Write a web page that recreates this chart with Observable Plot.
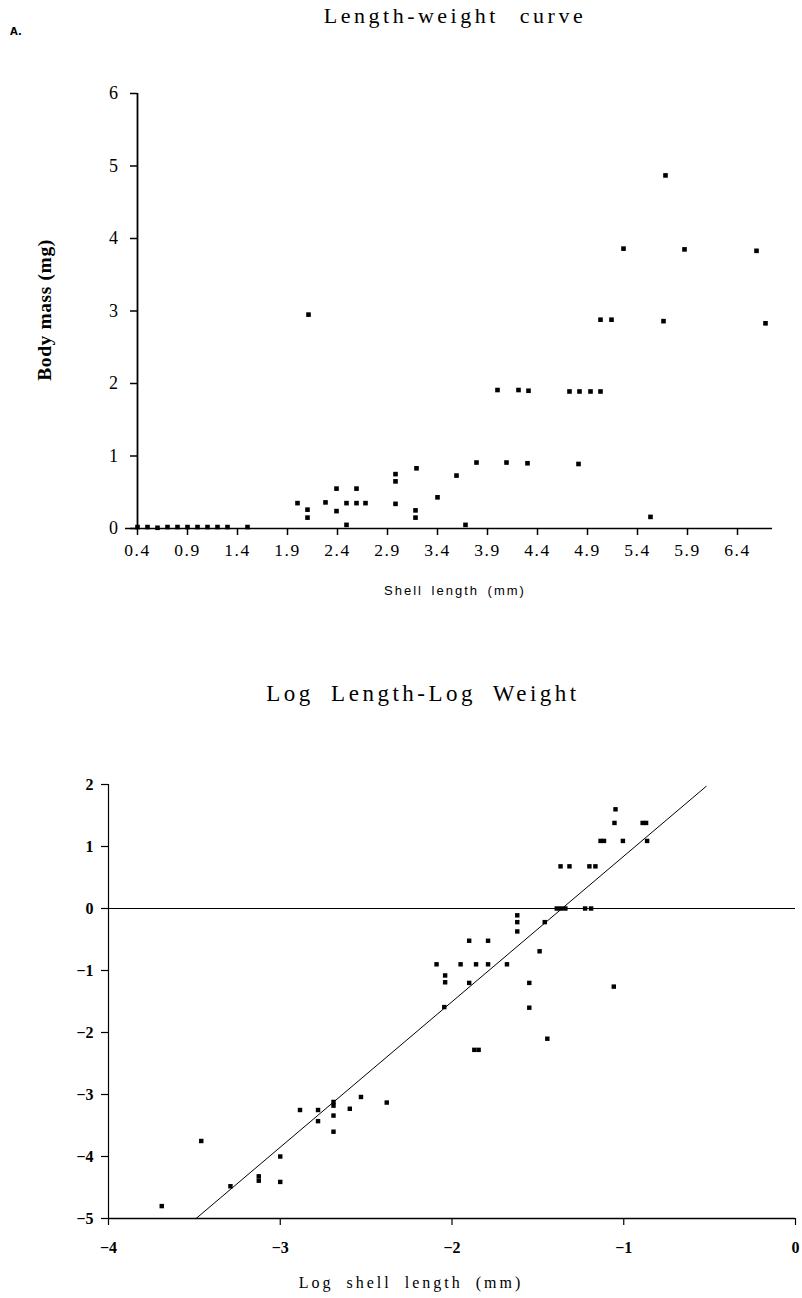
<!DOCTYPE html>
<html><head><meta charset="utf-8">
<script src="https://cdn.jsdelivr.net/npm/d3@7"></script>
<script src="https://cdn.jsdelivr.net/npm/@observablehq/plot@0.6"></script>
<style>
body{margin:0;background:#fff;}
#wrap{position:relative;width:802px;height:1298px;overflow:hidden;font-family:"Liberation Serif",serif;color:#000}
.t{position:absolute;white-space:nowrap;line-height:1;}
.c{transform:translate(-50%,-50%);}
#p1{position:absolute;left:0;top:0}
#p2{position:absolute;left:0;top:720px}
#p1 svg text{letter-spacing:1.5px}
</style></head><body>
<div id="wrap">
  <div class="t" style="left:10px;top:26px;font:bold 10px 'DejaVu Sans',sans-serif;">A.</div>
  <div id="p1"></div>
  <div id="p2"></div>
  <div class="t c" style="left:455px;top:16px;font-size:22px;letter-spacing:3.5px;word-spacing:12px;">Length-weight curve</div>
  <div class="t c" style="left:45px;top:310px;font-weight:bold;font-size:19.5px;letter-spacing:0.6px;transform:translate(-50%,-50%) rotate(-90deg);">Body mass (mg)</div>
  <div class="t c" style="left:455px;top:590px;font-family:'Liberation Sans',sans-serif;font-size:13px;letter-spacing:2px;word-spacing:3px;">Shell length (mm)</div>
  <div class="t c" style="left:423px;top:693px;font-size:23px;letter-spacing:3.5px;word-spacing:8px;">Log Length-Log Weight</div>
  <div class="t c" style="left:411px;top:1283px;font-size:16px;letter-spacing:3px;word-spacing:6px;">Log shell length (mm)</div>
</div>
<script>
// ---- Chart A: length-weight ----
const shellLength = [0.4,0.5,0.6,0.7,0.8,0.9,1.0,1.1,1.2,1.3,1.5,
  2.0,2.11,2.1,2.1,2.28,2.39,2.39,2.49,2.49,2.59,2.59,2.68,
  2.98,2.98,2.98,3.19,3.18,3.18,3.4,3.59,3.68,3.79,
  4.0,4.09,4.21,4.31,4.3,4.72,4.82,4.93,5.03,4.81,
  5.03,5.14,5.26,5.68,5.66,5.53,5.87,6.59,6.68];
const bodyMass = [0.02,0.02,0.01,0.02,0.02,0.02,0.02,0.02,0.02,0.02,0.02,
  0.35,2.95,0.26,0.15,0.36,0.55,0.24,0.35,0.05,0.55,0.35,0.35,
  0.75,0.65,0.34,0.83,0.25,0.15,0.43,0.73,0.05,0.91,
  1.91,0.91,1.91,1.9,0.9,1.89,1.89,1.89,1.89,0.89,
  2.88,2.88,3.86,4.87,2.86,0.16,3.85,3.83,2.83];
const ticksA_x = [0.4,0.9,1.4,1.9,2.4,2.9,3.4,3.9,4.4,4.9,5.4,5.9,6.4];
const ticksA_y = [0,1,2,3,4,5,6];

// ---- Chart B: log length - log weight ----
const logLength = [-3.69,-3.46,-3.29,-3.125,-3.125,-3.0,-3.0,-2.885,-2.78,-2.78,-2.69,-2.69,-2.69,-2.69,-2.595,-2.53,-2.38,
  -2.045,-2.09,-2.04,-2.04,-1.95,-1.9,-1.9,-1.86,-1.87,-1.845,-1.79,-1.79,-1.68,-1.62,-1.62,-1.62,-1.55,-1.55,-1.49,-1.46,-1.445,
  -1.39,-1.365,-1.34,-1.225,-1.19,-1.368,-1.316,-1.2,-1.165,-1.135,-1.115,-1.005,-0.864,-1.058,-1.048,-1.054,-0.89,-0.87];
const logMass = [-4.8,-3.75,-4.48,-4.32,-4.39,-4.0,-4.41,-3.25,-3.25,-3.43,-3.12,-3.18,-3.34,-3.6,-3.23,-3.04,-3.13,
  -1.59,-0.9,-1.08,-1.19,-0.9,-0.52,-1.2,-0.9,-2.28,-2.28,-0.52,-0.9,-0.9,-0.11,-0.22,-0.37,-1.2,-1.6,-0.69,-0.22,-2.1,
  0,0,0,0,0,0.68,0.68,0.68,0.68,1.09,1.09,1.09,1.09,-1.26,1.6,1.38,1.38,1.38];
const fitLogLength = [-3.49,-0.52];
const fitLogMass = [-5,1.97];
const ticksB_x = [-4,-3,-2,-1,0];
const ticksB_y = [-5,-4,-3,-2,-1,0,1,2];

const ptsA = shellLength.map((x,i)=>({x, y: bodyMass[i]}));
const ptsB = logLength.map((x,i)=>({x, y: logMass[i]}));
const fit = fitLogLength.map((x,i)=>({x, y: fitLogMass[i]}));

const p1 = Plot.plot({
  width: 802, height: 610,
  marginLeft: 137, marginRight: 30, marginTop: 93, marginBottom: 82,
  style: {fontFamily: "'Liberation Serif', serif", fontSize: "17px", color: "#000", background: "transparent"},
  x: {domain: [0.4, 6.75]},
  y: {domain: [0, 6]},
  marks: [
    Plot.ruleY([0], {x1: 0.28, x2: 6.75, stroke: "#000", strokeWidth: 1.6}),
    Plot.ruleX([0.4], {y1: 0, y2: 6, stroke: "#000", strokeWidth: 1.8}),
    Plot.axisY({ticks: ticksA_y, tickSize: 7, tickPadding: 11, label: null, tickFormat: d3.format("d"), fontSize: 18, strokeWidth: 1.5}),
    Plot.axisX({ticks: ticksA_x, tickSize: 7, tickPadding: 8, label: null, tickFormat: d3.format(".1f"), fontSize: 17.5, strokeWidth: 1.5}),
    Plot.dot(ptsA, {x: "x", y: "y", symbol: "square", r: 2.6, fill: "#000", stroke: "none"})
  ]
});
document.getElementById("p1").appendChild(p1);

const p2 = Plot.plot({
  width: 802, height: 576,
  marginLeft: 108, marginRight: 7, marginTop: 64, marginBottom: 78,
  style: {fontFamily: "'Liberation Serif', serif", fontSize: "16px", fontWeight: "bold", color: "#000", background: "transparent"},
  x: {domain: [-4, 0]},
  y: {domain: [-5, 2]},
  marks: [
    Plot.ruleY([0], {stroke: "#000", strokeWidth: 1.2}),
    Plot.ruleY([-5], {stroke: "#000", strokeWidth: 1.3}),
    Plot.ruleX([-4], {y1: -5, y2: 2, stroke: "#000", strokeWidth: 1.2}),
    Plot.axisY({ticks: ticksB_y, tickSize: 7, tickPadding: 8, label: null, tickFormat: d3.format("d"), strokeWidth: 1.2}),
    Plot.axisX({ticks: ticksB_x, tickSize: 7, tickPadding: 16, label: null, tickFormat: d3.format("d"), strokeWidth: 1.2}),
    Plot.line(fit, {x: "x", y: "y", stroke: "#000", strokeWidth: 1}),
    Plot.dot(ptsB, {x: "x", y: "y", symbol: "square", r: 2.5, fill: "#000", stroke: "none"})
  ]
});
document.getElementById("p2").appendChild(p2);
</script>
</body></html>
